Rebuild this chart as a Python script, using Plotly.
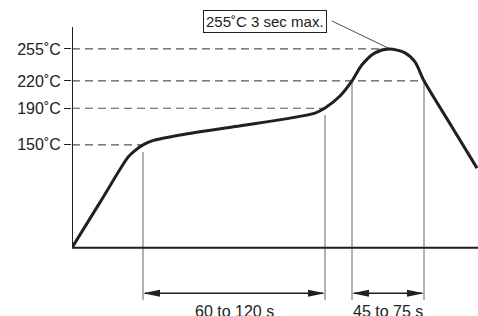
import plotly.graph_objects as go

# ---- data (time in s from start, temperature in degC) ----
profile_t = [0, 28, 56, 62, 71, 80, 108, 163, 243, 253, 268, 280, 290, 303, 317, 333, 343, 352, 380, 405]
profile_T = [37.6, 87.1, 136.6, 143.0, 150, 154.4, 160.8, 170, 184.8, 190.3, 203.5, 220.1, 237.6, 250.7, 255, 250.7, 240.8, 220.1, 169.6, 124.6]

base_T = 37.6          # temperature at start / x-axis level
axis_top_T = 279.0
x_end = 406

levels = [150, 190, 220, 255]
level_labels = ["150˚C", "190˚C", "220˚C", "255˚C"]
level_end_t = [71, 253, 352, 317]

vline_t = [71, 253, 280, 352]
vline_top_T = [142, 182.6, 220, 220]
vline_bottom_T = -19.9

span_start = [71, 280]
span_end = [253, 352]
span_labels = ["60 to 120 s", "45 to 75 s"]
span_T = -12.3
span_label_T = -32.0

peak_note = "255˚C 3 sec max."
peak_note_t, peak_note_T = 193, 284.5
leader_t = [260, 318]
leader_T = [285.5, 255]

FONT = "Liberation Sans, Arial, Helvetica, sans-serif"
INK = "#231f20"
GRAY = "#666666"

fig = go.Figure()

# dashed reference levels
for lv, te in zip(levels, level_end_t):
    fig.add_trace(go.Scatter(x=[0, te], y=[lv, lv], mode="lines", cliponaxis=False,
                             line=dict(color="#555555", width=1.1, dash="8px,5px"),
                             hoverinfo="skip", showlegend=False))

# vertical gray lines
for t, top in zip(vline_t, vline_top_T):
    fig.add_trace(go.Scatter(x=[t, t], y=[top, vline_bottom_T], mode="lines", cliponaxis=False,
                             line=dict(color=GRAY, width=1), hoverinfo="skip", showlegend=False))

# axes lines
fig.add_trace(go.Scatter(x=[0, 0], y=[axis_top_T, base_T], mode="lines", cliponaxis=False,
                         line=dict(color=INK, width=2), hoverinfo="skip", showlegend=False))
fig.add_trace(go.Scatter(x=[0, x_end], y=[base_T, base_T], mode="lines", cliponaxis=False,
                         line=dict(color=INK, width=2), hoverinfo="skip", showlegend=False))

# profile curve
fig.add_trace(go.Scatter(x=profile_t, y=profile_T, mode="lines", cliponaxis=False,
                         line=dict(color=INK, width=3, shape="spline", smoothing=0.8),
                         hoverinfo="skip", showlegend=False))

# leader line
fig.add_trace(go.Scatter(x=leader_t, y=leader_T, mode="lines", cliponaxis=False,
                         line=dict(color=INK, width=0.8), hoverinfo="skip", showlegend=False))

# span arrows
HL = 17      # arrow head length (time units)
HH = 3.8     # arrow head half height (temp units)
shapes = []
for s, e, lab in zip(span_start, span_end, span_labels):
    fig.add_trace(go.Scatter(x=[s + 2, e - 2], y=[span_T, span_T], mode="lines", cliponaxis=False,
                             line=dict(color=INK, width=1.3), hoverinfo="skip", showlegend=False))
    shapes.append(dict(type="path", xref="x", yref="y", fillcolor=INK, line=dict(width=0),
                       path=f"M{s},{span_T} L{s+HL},{span_T+HH} L{s+HL},{span_T-HH} Z"))
    shapes.append(dict(type="path", xref="x", yref="y", fillcolor=INK, line=dict(width=0),
                       path=f"M{e},{span_T} L{e-HL},{span_T+HH} L{e-HL},{span_T-HH} Z"))
    fig.add_annotation(x=(s + e) / 2, y=span_label_T, text=lab, showarrow=False,
                       font=dict(family=FONT, size=16, color="#222222"),
                       xanchor="center", yanchor="middle")

fig.add_annotation(x=peak_note_t, y=peak_note_T, text=peak_note, showarrow=False,
                   font=dict(family=FONT, size=15, color="#222222"),
                   bordercolor=INK, borderwidth=1, borderpad=2, bgcolor="white",
                   xanchor="center", yanchor="middle")

fig.update_layout(
    width=478, height=316,
    margin=dict(l=72, r=0, t=0, b=0),
    paper_bgcolor="white", plot_bgcolor="white",
    shapes=shapes,
    xaxis=dict(range=[0, x_end], visible=False, fixedrange=True),
    yaxis=dict(range=[-37.2, 308.5], showgrid=False, zeroline=False, showline=False,
               tickvals=levels, ticktext=level_labels, ticks="outside", ticklen=7,
               tickcolor=INK, tickwidth=1,
               tickfont=dict(family=FONT, size=16, color="#222222"), fixedrange=True),
    font=dict(family=FONT),
)

fig.write_html("out.html", config={"displayModeBar": False},
               post_script="document.body.style.margin='0';document.body.style.overflow='hidden';")
